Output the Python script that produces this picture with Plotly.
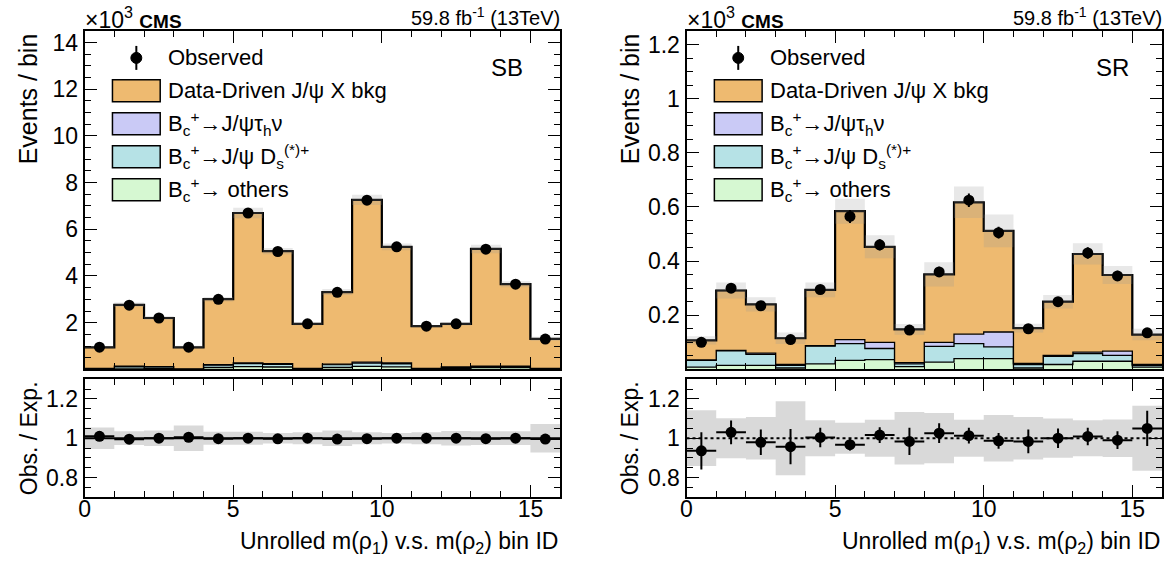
import numpy as np
import plotly.graph_objects as go

# ---------------- data (values in units of 10^3 events) ----------------
bin_edges = list(range(17))
bin_centers = [i + 0.5 for i in range(16)]

# SB region
sb_obs = [0.95, 2.75, 2.20, 0.95, 3.00, 6.70, 5.05, 1.95, 3.30, 7.25, 5.25, 1.85, 1.95, 5.15, 3.65, 1.30]
sb_obs_err = [0.03, 0.05, 0.05, 0.03, 0.05, 0.08, 0.07, 0.04, 0.06, 0.09, 0.07, 0.04, 0.04, 0.07, 0.06, 0.04]
sb_others = [0.02, 0.05, 0.04, 0.01, 0.08, 0.12, 0.10, 0.02, 0.08, 0.13, 0.11, 0.02, 0.04, 0.07, 0.07, 0.02]
sb_ds = [0.02, 0.08, 0.07, 0.01, 0.10, 0.13, 0.11, 0.02, 0.12, 0.14, 0.13, 0.02, 0.05, 0.06, 0.06, 0.02]
sb_tau = [0.005, 0.01, 0.01, 0.003, 0.02, 0.03, 0.03, 0.005, 0.02, 0.04, 0.04, 0.005, 0.01, 0.01, 0.01, 0.005]
sb_ratio = [1.010, 0.995, 1.000, 1.005, 0.998, 1.000, 0.997, 1.000, 0.996, 0.998, 1.000, 1.000, 1.000, 0.998, 1.000, 0.996]
sb_ratio_err = [0.012, 0.008, 0.009, 0.014, 0.008, 0.006, 0.006, 0.009, 0.008, 0.006, 0.006, 0.009, 0.009, 0.006, 0.007, 0.011]
sb_unc = [0.055, 0.035, 0.040, 0.065, 0.033, 0.033, 0.027, 0.030, 0.040, 0.030, 0.027, 0.030, 0.037, 0.035, 0.035, 0.073]

# SR region
sr_obs = [0.100, 0.300, 0.235, 0.110, 0.295, 0.565, 0.460, 0.145, 0.360, 0.625, 0.505, 0.150, 0.250, 0.430, 0.345, 0.135]
sr_obs_err = [0.010, 0.017, 0.015, 0.010, 0.017, 0.024, 0.021, 0.012, 0.019, 0.025, 0.022, 0.012, 0.016, 0.021, 0.019, 0.012]
sr_others = [0.008, 0.015, 0.015, 0.005, 0.020, 0.033, 0.036, 0.010, 0.027, 0.040, 0.040, 0.005, 0.018, 0.030, 0.030, 0.008]
sr_ds = [0.025, 0.053, 0.040, 0.010, 0.066, 0.062, 0.041, 0.010, 0.058, 0.055, 0.043, 0.013, 0.030, 0.028, 0.022, 0.007]
sr_tau = [0.002, 0.002, 0.005, 0.003, 0.002, 0.015, 0.023, 0.005, 0.015, 0.035, 0.055, 0.004, 0.004, 0.006, 0.015, 0.003]
sr_ratio = [0.936, 1.030, 0.979, 0.957, 1.004, 0.967, 1.016, 0.984, 1.026, 1.013, 0.987, 0.984, 1.000, 1.009, 0.990, 1.050]
sr_ratio_err = [0.095, 0.060, 0.065, 0.090, 0.050, 0.030, 0.040, 0.070, 0.050, 0.040, 0.040, 0.060, 0.050, 0.045, 0.045, 0.090]
sr_unc = [0.142, 0.102, 0.108, 0.188, 0.092, 0.079, 0.094, 0.134, 0.128, 0.094, 0.118, 0.108, 0.100, 0.092, 0.096, 0.166]

sb_yticks = [2, 4, 6, 8, 10, 12, 14]
sb_yticktext = ["2", "4", "6", "8", "10", "12", "14"]
sr_yticks = [0.2, 0.4, 0.6, 0.8, 1.0, 1.2]
sr_yticktext = ["0.2", "0.4", "0.6", "0.8", "1", "1.2"]
ratio_yticks = [0.8, 1.0, 1.2]
ratio_yticktext = ["0.8", "1", "1.2"]
x_ticks = [0, 5, 10, 15]

legend_labels = [
    "Data-Driven J/ψ X bkg",
    "B<sub>c</sub><sup>+</sup>→J/ψτ<sub>h</sub>ν",
    "B<sub>c</sub><sup>+</sup>→J/ψ D<sub>s</sub><sup>(*)+</sup>",
    "B<sub>c</sub><sup>+</sup>→ others",
]

# ---------------- styles ----------------
C_BKG = "#EEBA70"
C_TAU = "#CACAF6"
C_DS = "#B6E2E6"
C_OTH = "#D6F8D2"
FONT = "Liberation Sans, Arial, Helvetica, sans-serif"
FS = 23
LFS = 22

fig = go.Figure()

panels = [
    dict(name="SB", xa="x", ya="y", xr="x2", yr="y2", obs=sb_obs, obs_err=sb_obs_err,
         others=sb_others, ds=sb_ds, tau=sb_tau, ratio=sb_ratio, ratio_err=sb_ratio_err,
         unc=sb_unc, dotted=False),
    dict(name="SR", xa="x3", ya="y3", xr="x4", yr="y4", obs=sr_obs, obs_err=sr_obs_err,
         others=sr_others, ds=sr_ds, tau=sr_tau, ratio=sr_ratio, ratio_err=sr_ratio_err,
         unc=sr_unc, dotted=True),
]


def step_y(vals):
    v = list(vals)
    return v + [v[-1]]


for p in panels:
    oth = np.array(p["others"])
    ds = oth + np.array(p["ds"])
    tau = ds + np.array(p["tau"])
    obs = np.array(p["obs"])
    total = obs / np.array(p["ratio"])
    levels = [(oth, C_OTH), (ds, C_DS), (tau, C_TAU), (total, C_BKG)]
    fig.add_trace(go.Scatter(x=bin_edges, y=step_y(np.zeros(16)), mode="lines",
                             line=dict(width=0, shape="hv"), xaxis=p["xa"], yaxis=p["ya"],
                             showlegend=False, hoverinfo="skip"))
    for lv, col in levels:
        fig.add_trace(go.Scatter(x=bin_edges, y=step_y(lv), mode="lines", fill="tonexty",
                                 fillcolor=col, line=dict(color="black", width=1.3, shape="hv"),
                                 xaxis=p["xa"], yaxis=p["ya"], showlegend=False, hoverinfo="skip"))
    fig.add_trace(go.Scatter(x=bin_edges, y=step_y(total), mode="lines",
                             line=dict(color="black", width=2.2, shape="hv"),
                             xaxis=p["xa"], yaxis=p["ya"], showlegend=False, hoverinfo="skip"))
    unc = np.array(p["unc"])
    bx, by = [], []
    for i in range(16):
        lo = total[i] * (1 - unc[i])
        hi = total[i] * (1 + unc[i])
        bx += [bin_edges[i], bin_edges[i + 1], bin_edges[i + 1], bin_edges[i], bin_edges[i], None]
        by += [lo, lo, hi, hi, lo, None]
    fig.add_trace(go.Scatter(x=bx, y=by, mode="lines", fill="toself",
                             fillcolor="rgba(150,150,150,0.22)", line=dict(width=0),
                             xaxis=p["xa"], yaxis=p["ya"], showlegend=False, hoverinfo="skip"))
    fig.add_trace(go.Scatter(x=bin_centers, y=p["obs"], mode="markers",
                             marker=dict(color="black", size=11),
                             error_y=dict(type="data", array=p["obs_err"], color="black",
                                          thickness=2, width=0),
                             xaxis=p["xa"], yaxis=p["ya"], showlegend=False, hoverinfo="skip"))
    rx, ry = [], []
    for i in range(16):
        lo = 1 - unc[i]
        hi = 1 + unc[i]
        rx += [bin_edges[i], bin_edges[i + 1], bin_edges[i + 1], bin_edges[i], bin_edges[i], None]
        ry += [lo, lo, hi, hi, lo, None]
    fig.add_trace(go.Scatter(x=rx, y=ry, mode="lines", fill="toself",
                             fillcolor="rgba(170,170,170,0.45)", line=dict(width=0),
                             xaxis=p["xr"], yaxis=p["yr"], showlegend=False, hoverinfo="skip"))
    fig.add_trace(go.Scatter(x=[0, 16], y=[1, 1], mode="lines",
                             line=dict(color="black", width=2, dash="dot" if p["dotted"] else "solid"),
                             xaxis=p["xr"], yaxis=p["yr"], showlegend=False, hoverinfo="skip"))
    fig.add_trace(go.Scatter(x=bin_centers, y=p["ratio"], mode="markers",
                             marker=dict(color="black", size=11),
                             error_y=dict(type="data", array=p["ratio_err"], color="black",
                                          thickness=2, width=0),
                             error_x=dict(type="constant", value=0.5, color="black",
                                          thickness=2, width=0),
                             xaxis=p["xr"], yaxis=p["yr"], showlegend=False, hoverinfo="skip"))

# ---------------- layout ----------------
W, H = 1174, 570


def PX(x):
    return x / W


def PY(y):
    return 1 - y / H


Lx = [PX(79), PX(557)]
Rx = [PX(684), PX(1162)]
Ty = [PY(369), PY(30)]
By = [PY(497), PY(379)]

axis_common = dict(showline=True, linecolor="black", linewidth=2, mirror="allticks",
                   ticks="inside", ticklen=12, tickwidth=1.2, tickcolor="black",
                   showgrid=False, zeroline=False,
                   tickfont=dict(family=FONT, size=FS, color="black"))

xmain = dict(axis_common, range=[0, 16], tickvals=x_ticks, ticklabelstandoff=-10,
             minor=dict(dtick=1, ticklen=6, ticks="inside", tickcolor="black", tickwidth=1.2))

fig.update_layout(
    width=W, height=H, margin=dict(l=0, r=0, t=0, b=0),
    paper_bgcolor="white", plot_bgcolor="white", showlegend=False,
    xaxis=dict(xmain, domain=Lx, anchor="y", showticklabels=False),
    yaxis=dict(axis_common, domain=Ty, anchor="x", range=[0, 14.5], tickvals=sb_yticks,
               ticktext=sb_yticktext,
               minor=dict(dtick=0.5, ticklen=6, ticks="inside", tickcolor="black", tickwidth=1.2)),
    xaxis2=dict(xmain, domain=Lx, anchor="y2", showticklabels=True),
    yaxis2=dict(axis_common, domain=By, anchor="x2", range=[0.7, 1.3], tickvals=ratio_yticks,
                ticktext=ratio_yticktext,
                minor=dict(dtick=0.05, ticklen=6, ticks="inside", tickcolor="black", tickwidth=1.2)),
    xaxis3=dict(xmain, domain=Rx, anchor="y3", showticklabels=False),
    yaxis3=dict(axis_common, domain=Ty, anchor="x3", range=[0, 1.25], tickvals=sr_yticks,
                ticktext=sr_yticktext,
                minor=dict(dtick=0.05, ticklen=6, ticks="inside", tickcolor="black", tickwidth=1.2)),
    xaxis4=dict(xmain, domain=Rx, anchor="y4", showticklabels=True),
    yaxis4=dict(axis_common, domain=By, anchor="x4", range=[0.7, 1.3], tickvals=ratio_yticks,
                ticktext=ratio_yticktext,
                minor=dict(dtick=0.05, ticklen=6, ticks="inside", tickcolor="black", tickwidth=1.2)),
)

annotations = []
shapes = []
legend_cols = [C_BKG, C_TAU, C_DS, C_OTH]
for k, (x0p, x1p, region, rshift) in enumerate([(79, 557, "SB", 35), (684, 1162, "SR", 31)]):
    # header
    annotations.append(dict(x=PX(x0p - 2), y=PY(0), xref="paper", yref="paper", xanchor="left",
                            yanchor="top", showarrow=False,
                            text="×10<sup>3</sup> <b><span style='font-size:19px'>CMS</span></b>",
                            font=dict(family=FONT, size=23, color="black")))
    annotations.append(dict(x=PX(x1p + 2), y=PY(1), xref="paper", yref="paper", xanchor="right",
                            yanchor="top", showarrow=False,
                            text="59.8 fb<sup>-1</sup> (13TeV)",
                            font=dict(family=FONT, size=20, color="black")))
    annotations.append(dict(x=PX(x1p - rshift), y=PY(67), xref="paper", yref="paper",
                            xanchor="right", yanchor="middle", showarrow=False, text=region,
                            font=dict(family=FONT, size=24, color="black")))
    # y titles
    annotations.append(dict(x=PX(x0p - 56), y=Ty[1], xref="paper", yref="paper", xanchor="center",
                            yanchor="top", showarrow=False, textangle=-90, text="Events / bin",
                            font=dict(family=FONT, size=25, color="black")))
    annotations.append(dict(x=PX(x0p - 56), y=By[1], xref="paper", yref="paper", xanchor="center",
                            yanchor="top", showarrow=False, textangle=-90, text="Obs. / Exp.",
                            font=dict(family=FONT, size=FS, color="black")))
    # x title
    annotations.append(dict(x=PX(x1p), y=PY(526), xref="paper", yref="paper", xanchor="right",
                            yanchor="top", showarrow=False,
                            text="Unrolled m(ρ<sub>1</sub>) v.s. m(ρ<sub>2</sub>) bin ID",
                            font=dict(family=FONT, size=FS, color="black")))
    # legend
    cx, cy = x0p + 52, 57
    shapes.append(dict(type="line", xref="paper", yref="paper", x0=PX(cx), x1=PX(cx),
                       y0=PY(cy - 12), y1=PY(cy + 12), line=dict(color="black", width=2)))
    shapes.append(dict(type="circle", xref="paper", yref="paper", x0=PX(cx - 5.5),
                       x1=PX(cx + 5.5), y0=PY(cy + 5.5), y1=PY(cy - 5.5),
                       fillcolor="black", line=dict(color="black", width=1)))
    annotations.append(dict(x=PX(x0p + 82), y=PY(cy), xref="paper", yref="paper",
                            xanchor="left", yanchor="middle", showarrow=False, text="Observed",
                            font=dict(family=FONT, size=LFS, color="black")))
    for j, (lab, col) in enumerate(zip(legend_labels, legend_cols)):
        yc = 90 + j * 33
        shapes.append(dict(type="rect", xref="paper", yref="paper", x0=PX(x0p + 28),
                           x1=PX(x0p + 76), y0=PY(yc + 11), y1=PY(yc - 11),
                           fillcolor=col, line=dict(color="black", width=1.5)))
        annotations.append(dict(x=PX(x0p + 82), y=PY(yc), xref="paper", yref="paper",
                                xanchor="left", yanchor="middle", showarrow=False, text=lab,
                                font=dict(family=FONT, size=LFS, color="black")))

fig.update_layout(annotations=annotations, shapes=shapes)
fig.write_html("out.html", config={"displayModeBar": False},
               post_script="document.body.style.margin='0px';")
